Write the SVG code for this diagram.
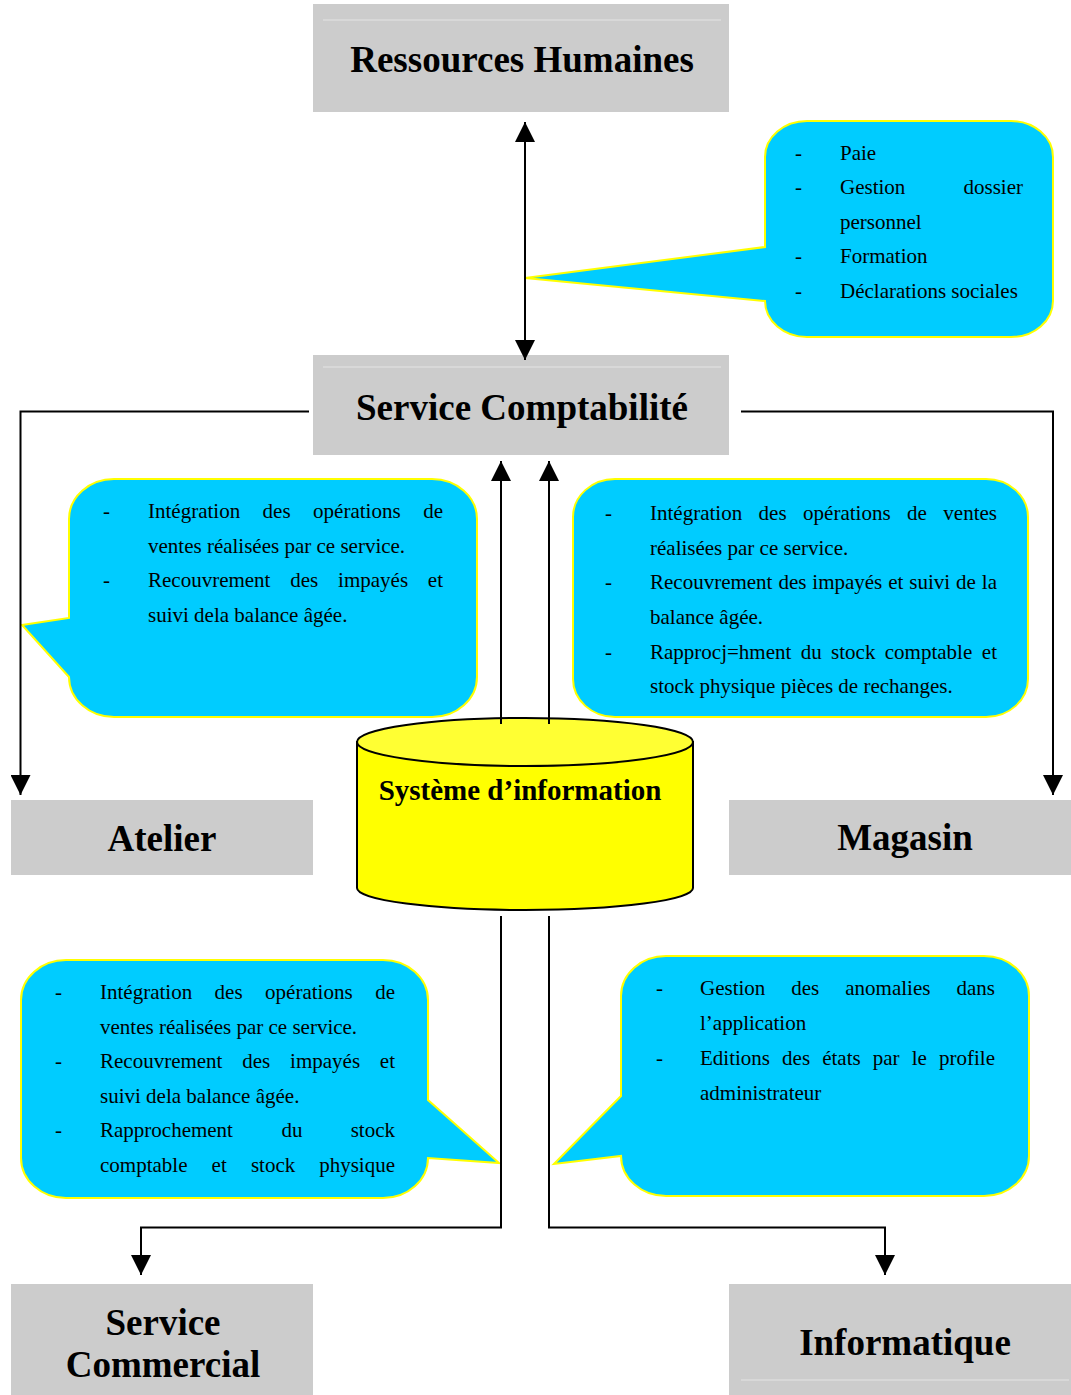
<svg xmlns="http://www.w3.org/2000/svg" width="1071" height="1395" viewBox="0 0 1071 1395">
<style>
.box{fill:#cccccc}
.faint{stroke:#e4e4e4;stroke-width:1}
.title{font-family:"Liberation Serif","Times New Roman",serif;font-weight:bold;font-size:37px;fill:#000;text-anchor:middle}
.call{fill:#00ccff;stroke:#ffff00;stroke-width:2}
.t{font-family:"Liberation Serif","Times New Roman",serif;font-size:21px;fill:#000}
.e{text-anchor:end}
.conn{fill:none;stroke:#000;stroke-width:2}
</style>
<defs>
<marker id="arr" markerUnits="userSpaceOnUse" markerWidth="20" markerHeight="20" refX="20" refY="10" orient="auto-start-reverse" viewBox="0 0 20 20">
<path d="M0,0 L20,10 L0,20 Z" fill="#000"/>
</marker>
</defs>

<g id="ressources-humaines">
<rect class="box" x="313" y="4" width="416" height="108"/>
<line class="faint" x1="323" y1="20" x2="721" y2="20"/>
<text class="title" x="522" y="72">Ressources Humaines</text>
</g>

<g id="service-comptabilite">
<rect class="box" x="313" y="355" width="416" height="100"/>
<line class="faint" x1="323" y1="367" x2="721" y2="367"/>
<text class="title" x="522" y="420">Service Comptabilité</text>
</g>

<g id="atelier">
<rect class="box" x="11" y="800" width="302" height="75"/>
<text class="title" x="162" y="851">Atelier</text>
</g>

<g id="magasin">
<rect class="box" x="729" y="800" width="342" height="75"/>
<text class="title" x="905" y="850">Magasin</text>
</g>

<g id="service-commercial">
<rect class="box" x="11" y="1284" width="302" height="111"/>
<text class="title" x="163" y="1335">Service</text>
<text class="title" x="163" y="1377">Commercial</text>
</g>

<g id="informatique">
<rect class="box" x="729" y="1284" width="342" height="111"/>
<line class="faint" x1="741" y1="1380" x2="1069" y2="1380"/>
<text class="title" x="905" y="1355">Informatique</text>
</g>

<g id="callout-rh">
<path class="call" d="M807,121 H1011 A42,36 0 0 1 1053,157 V301 A42,36 0 0 1 1011,337 H807 A42,36 0 0 1 765,301 L525,278 L765,247 V157 A42,36 0 0 1 807,121 Z"/>
<text class="t" x="795" y="160">-</text><text class="t" x="840" y="160">Paie</text>
<text class="t" x="795" y="194">-</text><text class="t" x="840" y="194">Gestion</text><text class="t e" x="1023" y="194">dossier</text>
<text class="t" x="840" y="229">personnel</text>
<text class="t" x="795" y="263">-</text><text class="t" x="840" y="263">Formation</text>
<text class="t" x="795" y="298">-</text><text class="t" x="840" y="298">Déclarations sociales</text>
</g>

<g id="callout-atelier">
<path class="call" d="M114,479 H432 A45,40 0 0 1 477,519 V677 A45,40 0 0 1 432,717 H114 A45,40 0 0 1 69,677 L22,625 L69,618 V519 A45,40 0 0 1 114,479 Z"/>
<text class="t" x="103" y="518">-</text><text class="t" x="148" y="518">Intégration</text><text class="t" x="262.6" y="518">des</text><text class="t" x="313.1" y="518">opérations</text><text class="t e" x="443" y="518">de</text>
<text class="t" x="148" y="552.5">ventes réalisées par ce service.</text>
<text class="t" x="103" y="587">-</text><text class="t" x="148" y="587">Recouvrement</text><text class="t" x="290.3" y="587">des</text><text class="t" x="338.1" y="587">impayés</text><text class="t e" x="443" y="587">et</text>
<text class="t" x="148" y="621.5">suivi dela balance âgée.</text>
</g>

<g id="callout-magasin">
<path class="call" d="M615,479 H986 A42,38 0 0 1 1028,517 V679 A42,38 0 0 1 986,717 H615 A42,38 0 0 1 573,679 V517 A42,38 0 0 1 615,479 Z"/>
<text class="t" x="605" y="520">-</text><text class="t" x="650" y="520">Intégration</text><text class="t" x="758.6" y="520">des</text><text class="t" x="803.1" y="520">opérations</text><text class="t" x="907.1" y="520">de</text><text class="t e" x="997" y="520">ventes</text>
<text class="t" x="650" y="555">réalisées par ce service.</text>
<text class="t" x="605" y="589">-</text><text class="t" x="650" y="589">Recouvrement</text><text class="t" x="778.4" y="589">des</text><text class="t" x="812.3" y="589">impayés</text><text class="t" x="888.2" y="589">et</text><text class="t" x="909.3" y="589">suivi</text><text class="t" x="956" y="589">de</text><text class="t e" x="997" y="589">la</text>
<text class="t" x="650" y="624">balance âgée.</text>
<text class="t" x="605" y="659">-</text><text class="t" x="650" y="659">Rapprocj=hment</text><text class="t" x="800.7" y="659">du</text><text class="t" x="831.1" y="659">stock</text><text class="t" x="884.8" y="659">comptable</text><text class="t e" x="997" y="659">et</text>
<text class="t" x="650" y="693">stock physique pièces de rechanges.</text>
</g>

<g id="callout-commercial">
<path class="call" d="M66,960 H383 A45,40 0 0 1 428,1000 V1100 L499,1163 L428,1158 A45,40 0 0 1 383,1198 H66 A45,40 0 0 1 21,1158 V1000 A45,40 0 0 1 66,960 Z"/>
<text class="t" x="55" y="999">-</text><text class="t" x="100" y="999">Intégration</text><text class="t" x="214.6" y="999">des</text><text class="t" x="265.1" y="999">opérations</text><text class="t e" x="395" y="999">de</text>
<text class="t" x="100" y="1034">ventes réalisées par ce service.</text>
<text class="t" x="55" y="1068">-</text><text class="t" x="100" y="1068">Recouvrement</text><text class="t" x="242.3" y="1068">des</text><text class="t" x="290.1" y="1068">impayés</text><text class="t e" x="395" y="1068">et</text>
<text class="t" x="100" y="1103">suivi dela balance âgée.</text>
<text class="t" x="55" y="1137">-</text><text class="t" x="100" y="1137">Rapprochement</text><text class="t" x="281.4" y="1137">du</text><text class="t e" x="395" y="1137">stock</text>
<text class="t" x="100" y="1172">comptable</text><text class="t" x="211.6" y="1172">et</text><text class="t" x="250.9" y="1172">stock</text><text class="t e" x="395" y="1172">physique</text>
</g>

<g id="callout-informatique">
<path class="call" d="M666,956 H984 A45,40 0 0 1 1029,996 V1156 A45,40 0 0 1 984,1196 H666 A45,40 0 0 1 621,1156 L554,1164 L621,1096 V996 A45,40 0 0 1 666,956 Z"/>
<text class="t" x="656" y="995">-</text><text class="t" x="700" y="995">Gestion</text><text class="t" x="791.3" y="995">des</text><text class="t" x="845.3" y="995">anomalies</text><text class="t e" x="995" y="995">dans</text>
<text class="t" x="700" y="1030">l’application</text>
<text class="t" x="656" y="1065">-</text><text class="t" x="700" y="1065">Editions</text><text class="t" x="782.1" y="1065">des</text><text class="t" x="822.2" y="1065">états</text><text class="t" x="872.8" y="1065">par</text><text class="t" x="911.7" y="1065">le</text><text class="t e" x="995" y="1065">profile</text>
<text class="t" x="700" y="1100">administrateur</text>
</g>

<g id="systeme-information">
<path d="M357,742 V888 A168,22 0 0 0 693,888 V742 Z" fill="#ffff00" stroke="#000" stroke-width="2"/>
<ellipse cx="525" cy="742" rx="168" ry="24" fill="#ffff33" stroke="#000" stroke-width="2"/>
<text x="520" y="800" font-family="'Liberation Serif','Times New Roman',serif" font-weight="bold" font-size="29" text-anchor="middle">Système d’information</text>
</g>

<g id="connectors">
<line class="conn" x1="525" y1="122" x2="525" y2="360" marker-start="url(#arr)" marker-end="url(#arr)"/>
<polyline class="conn" points="309,411.5 20.5,411.5 20.5,795" marker-end="url(#arr)"/>
<polyline class="conn" points="741,411.5 1053,411.5 1053,795" marker-end="url(#arr)"/>
<line class="conn" x1="501" y1="724" x2="501" y2="461" marker-end="url(#arr)"/>
<line class="conn" x1="549" y1="724" x2="549" y2="461" marker-end="url(#arr)"/>
<polyline class="conn" points="501,916 501,1227.5 141,1227.5 141,1275" marker-end="url(#arr)"/>
<polyline class="conn" points="549,916 549,1227.5 885,1227.5 885,1275" marker-end="url(#arr)"/>
</g>
</svg>
